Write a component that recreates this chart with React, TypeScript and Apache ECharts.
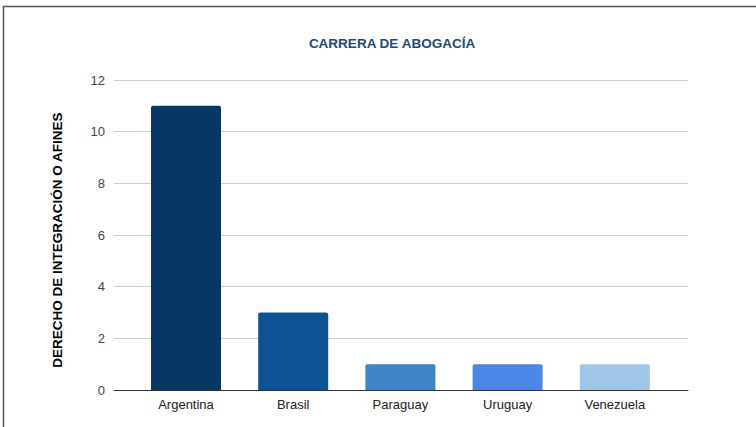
import React, { useEffect, useRef } from "react";
import * as echarts from "echarts";

const categories = ["Argentina", "Brasil", "Paraguay", "Uruguay", "Venezuela"];
const values = [11, 3, 1, 1, 1];
const barColors = ["#073763", "#0b5394", "#3d85c6", "#4a86e8", "#9fc5e8"];
const yTicks = { min: 0, max: 12, interval: 2 };
const titleText = "CARRERA DE ABOGACÍA";
const yAxisTitle = "DERECHO DE INTEGRACIÓN O AFINES";

export default function App() {
  const ref = useRef<HTMLDivElement>(null);
  useEffect(() => {
    if (!ref.current) return;
    const chart = echarts.init(ref.current, null, { renderer: "svg" });
    const font = "'Liberation Sans', Arial, sans-serif";
    chart.setOption({
      animation: false,
      backgroundColor: "#ffffff",
      title: {
        text: titleText,
        left: 387,
        top: 31,
        textAlign: "center",
        textStyle: { fontFamily: font, fontSize: 13.5, fontWeight: "bold", color: "#1f4a7c" },
      },
      graphic: [
        {
          type: "rect",
          shape: { x: 3.5, y: 6.5, width: 900, height: 600 },
          style: { fill: "none", stroke: "#555555", lineWidth: 1.5 },
          silent: true,
        },
        {
          type: "text",
          x: 57.5,
          y: 240,
          rotation: Math.PI / 2,
          silent: true,
          style: {
            text: yAxisTitle,
            fontFamily: font,
            fontSize: 13.5,
            fontWeight: "bold",
            fill: "#000000",
            align: "center",
            verticalAlign: "middle",
          },
        },
      ],
      grid: [
        { left: 114, right: 68, top: 80, bottom: 37 },
        { left: 132.4, right: 87.6, top: 80, bottom: 37 },
      ],
      xAxis: [
        {
          gridIndex: 0,
          type: "value",
          min: 0,
          max: 1,
          axisLine: { show: true, lineStyle: { color: "#333333", width: 1 } },
          axisTick: { show: false },
          axisLabel: { show: false },
          splitLine: { show: false },
        },
        {
          gridIndex: 1,
          type: "category",
          data: categories,
          axisLine: { show: false },
          axisTick: { show: false },
          axisLabel: { fontFamily: font, fontSize: 13, color: "#222222", margin: 8 },
        },
      ],
      yAxis: [
        {
          gridIndex: 0,
          type: "value",
          min: yTicks.min,
          max: yTicks.max,
          interval: yTicks.interval,
          axisLine: { show: false },
          axisTick: { show: false },
          axisLabel: { fontFamily: font, fontSize: 13, color: "#444444", margin: 9 },
          splitLine: { show: true, lineStyle: { color: "#cccccc", width: 1 } },
        },
        {
          gridIndex: 1,
          type: "value",
          min: yTicks.min,
          max: yTicks.max,
          interval: yTicks.interval,
          show: false,
          splitLine: { show: false },
        },
      ],
      series: [
        {
          type: "bar",
          xAxisIndex: 1,
          yAxisIndex: 1,
          barWidth: 70,
          data: values.map((v, i) => ({
            value: v,
            itemStyle: { color: barColors[i], borderRadius: [2, 2, 0, 0] },
          })),
        },
      ],
    });
    return () => chart.dispose();
  }, []);
  return (
    <div
      ref={ref}
      style={{ position: "fixed", left: 0, top: 0, width: 756, height: 427 }}
    />
  );
}
